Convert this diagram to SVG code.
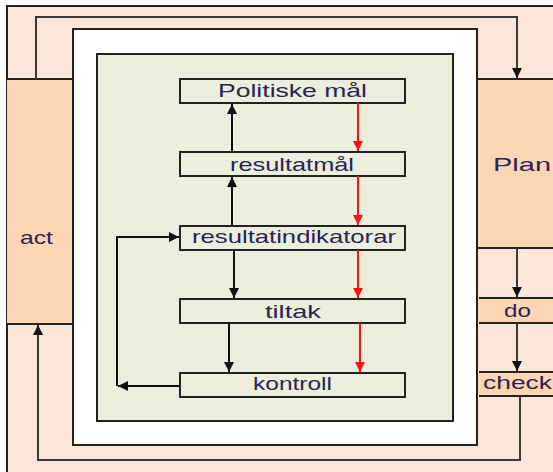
<svg xmlns="http://www.w3.org/2000/svg" width="553" height="472" viewBox="0 0 553 472">
  <defs>
    <marker id="arrow" viewBox="0 0 10 10" refX="10" refY="5" markerWidth="10" markerHeight="11" markerUnits="userSpaceOnUse" orient="auto">
      <path d="M0,0 L10,5 L0,10 z" fill="#111"/>
    </marker>
    <marker id="arrow-red" viewBox="0 0 10 10" refX="10" refY="5" markerWidth="10" markerHeight="11" markerUnits="userSpaceOnUse" orient="auto">
      <path d="M0,0 L10,5 L0,10 z" fill="#ff1010"/>
    </marker>
    <style>
      .bg { fill: #fce6d8; stroke: #222; stroke-width: 2; }
      .stage { fill: #fcd5b5; }
      .edge { stroke: #222; stroke-width: 2; fill: none; }
      .frame { fill: #ffffff; stroke: #222; stroke-width: 2; }
      .panel { fill: #ebeedd; stroke: #222; stroke-width: 2; }
      .box { fill: #ebeedd; stroke: #222; stroke-width: 2; }
      .label { font-family: "Liberation Sans", Arial, sans-serif; font-size: 19px; fill: #2a2450; text-anchor: start; }
      .flow { stroke: #111; stroke-width: 2; fill: none; marker-end: url(#arrow); }
      .flow-red { stroke: #ff1010; stroke-width: 2; fill: none; marker-end: url(#arrow-red); }
      .loop { stroke: #3a3a3a; stroke-width: 2; fill: none; }
      .loop-arrow { stroke: #3a3a3a; stroke-width: 2; fill: none; marker-end: url(#arrow); }
    </style>
  </defs>

  <!-- outer PDCA background -->
  <rect class="bg" x="7" y="6" width="560" height="480"/>

  <!-- PDCA stages -->
  <g id="stage-act">
    <rect class="stage" x="7" y="79" width="66" height="245"/>
    <path class="edge" d="M7,79 H73 M7,324 H73"/>
    <text class="label" x="20" y="244" textLength="33" lengthAdjust="spacingAndGlyphs">act</text>
  </g>
  <g id="stage-plan">
    <rect class="stage" x="477" y="79" width="80" height="169"/>
    <path class="edge" d="M477,79 H553 M477,248 H553"/>
    <text class="label" x="493" y="171" textLength="58" lengthAdjust="spacingAndGlyphs">Plan</text>
  </g>
  <g id="stage-do">
    <rect class="stage" x="477" y="298" width="80" height="25"/>
    <path class="edge" d="M479,298 H553 M479,323 H553"/>
    <text class="label" x="504" y="317" textLength="27" lengthAdjust="spacingAndGlyphs">do</text>
  </g>
  <g id="stage-check">
    <rect class="stage" x="477" y="372" width="80" height="24"/>
    <path class="edge" d="M479,372 H553 M479,396 H553"/>
    <text class="label" x="483" y="389" textLength="69" lengthAdjust="spacingAndGlyphs">check</text>
  </g>

  <!-- white frame and inner panel -->
  <g id="frame">
    <rect class="frame" x="73" y="29" width="404" height="416"/>
  </g>
  <g id="panel">
    <rect class="panel" x="97" y="54" width="356" height="367"/>
  </g>

  <!-- goal hierarchy -->
  <g id="node-politiske-mal">
    <rect class="box" x="180" y="79" width="225" height="24"/>
    <text class="label" x="218" y="97" textLength="149" lengthAdjust="spacingAndGlyphs">Politiske mål</text>
  </g>
  <g id="node-resultatmal">
    <rect class="box" x="180" y="152" width="225" height="24"/>
    <text class="label" x="230" y="171" textLength="124" lengthAdjust="spacingAndGlyphs">resultatmål</text>
  </g>
  <g id="node-resultatindikatorar">
    <rect class="box" x="180" y="226" width="225" height="24"/>
    <text class="label" x="192" y="243" textLength="204" lengthAdjust="spacingAndGlyphs">resultatindikatorar</text>
  </g>
  <g id="node-tiltak">
    <rect class="box" x="180" y="299" width="225" height="24"/>
    <text class="label" x="265" y="318" textLength="56" lengthAdjust="spacingAndGlyphs">tiltak</text>
  </g>
  <g id="node-kontroll">
    <rect class="box" x="180" y="373" width="225" height="24"/>
    <text class="label" x="253" y="390" textLength="79" lengthAdjust="spacingAndGlyphs">kontroll</text>
  </g>

  <!-- connectors -->
  <g id="connectors">
    <!-- bottom-up (black) -->
    <path class="flow" d="M232,152 V104"/>
    <path class="flow" d="M232,226 V177"/>
    <!-- top-down (black) -->
    <path class="flow" d="M234,250 V298"/>
    <path class="flow" d="M229,323 V372"/>
    <!-- top-down (red) -->
    <path class="flow-red" d="M358,103 V151"/>
    <path class="flow-red" d="M358,176 V225"/>
    <path class="flow-red" d="M358,250 V298"/>
    <path class="flow-red" d="M360,323 V372"/>
    <!-- feedback from kontroll to resultatindikatorar -->
    <path class="flow" d="M180,386 H118"/>
    <path class="flow" d="M117,386 V237 H179"/>
    <!-- PDCA cycle -->
    <path class="loop-arrow" d="M36,79 V17 H517 V78"/>
    <path class="loop-arrow" d="M517,248 V297"/>
    <path class="loop-arrow" d="M517,323 V371"/>
    <path class="loop-arrow" d="M520,396 V460 H38 V325"/>
  </g>
</svg>
